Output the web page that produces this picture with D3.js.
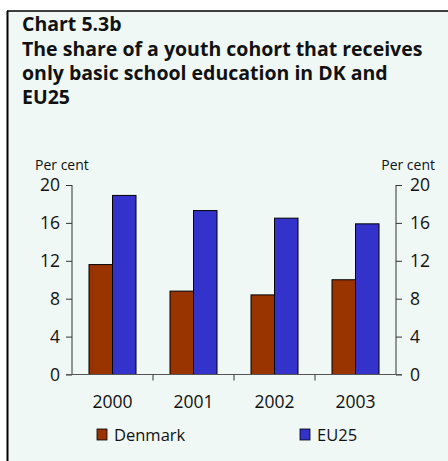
<!DOCTYPE html>
<html>
<head>
<meta charset="utf-8">
<script src="https://cdn.jsdelivr.net/npm/d3@7"></script>
<style>
  html, body { margin: 0; padding: 0; background: #ffffff; }
  svg { display: block; }
  text { font-family: "Open Sans", "Noto Sans", sans-serif; fill: #111; }
</style>
</head>
<body>
<svg id="chart" width="448" height="461"></svg>
<script>
// Data
const years = ["2000", "2001", "2002", "2003"];
const seriesNames = ["Denmark", "EU25"];
const denmark = [11.6, 8.8, 8.4, 10.0];
const eu25 = [18.9, 17.3, 16.5, 15.9];
const yTicks = [0, 4, 8, 12, 16, 20];
const titleLines = [
  "Chart 5.3b",
  "The share of a youth cohort that receives",
  "only basic school education in DK and",
  "EU25"
];
const colors = ["#993300", "#3333cc"];

const svg = d3.select("#chart");
const W = 448, H = 461;

// Panel background and frame (top and left rules)
svg.append("rect").attr("x", 7).attr("y", 11).attr("width", W - 7).attr("height", H - 11)
  .attr("fill", "#eff8f5");
svg.append("line").attr("x1", 7).attr("x2", W).attr("y1", 11).attr("y2", 11)
  .attr("stroke", "#000").attr("stroke-width", 1.5);
svg.append("line").attr("x1", 7.5).attr("x2", 7.5).attr("y1", 11).attr("y2", H)
  .attr("stroke", "#000").attr("stroke-width", 2);

// Title block: one text element, one tspan per line
const titleY = [31, 56, 80, 104];
const title = svg.append("text").attr("font-size", 19.5).attr("font-weight", "bold");
titleLines.forEach((t, i) => {
  title.append("tspan").attr("x", 22).attr("y", titleY[i]).text(t);
});

// Scales
const plot = { left: 72, right: 396, top: 185, bottom: 374.5 };
const x0 = d3.scaleBand().domain(years).range([plot.left, plot.right]).paddingInner(0).paddingOuter(0);
const x1 = d3.scaleBand().domain(seriesNames).range([0, 47]);
const y = d3.scaleLinear().domain([0, 20]).range([plot.bottom, plot.top]);

// Bars
const values = [denmark, eu25];
const groups = svg.append("g").selectAll("g").data(years).join("g")
  .attr("transform", d => `translate(${x0(d) + (x0.bandwidth() - 47) / 2},0)`);
groups.selectAll("rect")
  .data((d, i) => seriesNames.map((s, k) => ({ s, v: values[k][i], k })))
  .join("rect")
  .attr("x", d => x1(d.s))
  .attr("y", d => y(d.v))
  .attr("width", x1.bandwidth())
  .attr("height", d => y(0) - y(d.v))
  .attr("fill", d => colors[d.k])
  .attr("stroke", "#000").attr("stroke-width", 1);

// Left axis
const leftAxis = d3.axisLeft(y).tickValues(yTicks).tickSize(6).tickPadding(6);
const gl = svg.append("g").attr("transform", `translate(${plot.left},0)`).call(leftAxis);
// Right axis
const rightAxis = d3.axisRight(y).tickValues(yTicks).tickSize(6).tickPadding(8);
const gr = svg.append("g").attr("transform", `translate(${plot.right},0)`).call(rightAxis);
[gl, gr].forEach(g => {
  g.select(".domain").attr("stroke", "#333").attr("d", `M0,${plot.top}V${plot.bottom}`);
  g.selectAll(".tick line").attr("stroke", "#333");
  g.selectAll(".tick text").attr("font-size", 17.5).attr("fill", "#111")
    .attr("font-family", "\"Open Sans\", sans-serif");
});

// Category axis (baseline with tick marks between groups)
const xAxis = d3.axisBottom(x0).tickSize(0).tickPadding(21);
const gx = svg.append("g").attr("transform", `translate(0,${plot.bottom})`).call(xAxis);
gx.select(".domain").attr("stroke", "#555").attr("d", `M${plot.left - 6},0H${plot.right + 6}`);
gx.selectAll(".tick text").attr("font-size", 17.5).attr("fill", "#111")
  .attr("font-family", "\"Open Sans\", sans-serif");
gx.selectAll(".sep").data(years.slice(1)).join("line")
  .attr("class", "sep")
  .attr("x1", d => x0(d)).attr("x2", d => x0(d))
  .attr("y1", 0).attr("y2", 6)
  .attr("stroke", "#333");

// Unit labels
svg.append("text").attr("x", 35).attr("y", 170).attr("font-size", 14).text("Per cent");
svg.append("text").attr("x", 435).attr("y", 170).attr("font-size", 14)
  .attr("text-anchor", "end").text("Per cent");

// Legend
const legendX = [97, 300];
seriesNames.forEach((s, k) => {
  svg.append("rect").attr("x", legendX[k]).attr("y", 429).attr("width", 10).attr("height", 11)
    .attr("fill", colors[k]).attr("stroke", "#000").attr("stroke-width", 0.8);
  svg.append("text").attr("x", legendX[k] + 17).attr("y", 441).attr("font-size", 16.5).text(s);
});
</script>
</body>
</html>
